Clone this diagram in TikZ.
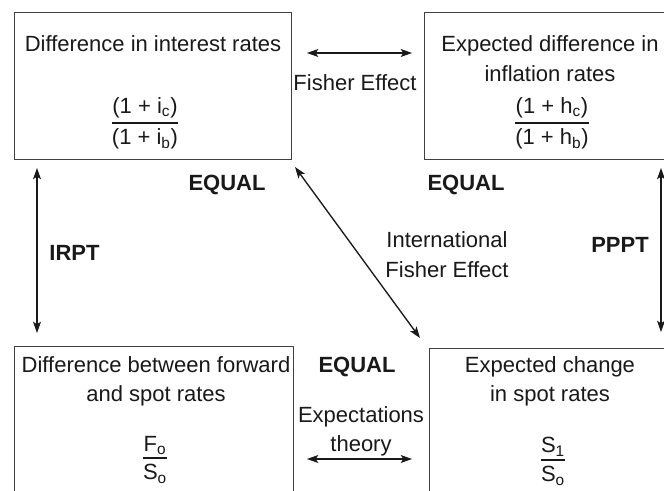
\documentclass[tikz,border=0pt]{standalone}
\usepackage{fontspec}
\setmainfont{Liberation Sans}
\usetikzlibrary{arrows.meta}
\setlength{\arrayrulewidth}{1pt}
\newcommand\myfrac[2]{\begin{tabular}[t]{@{}c@{}}#1\\\hline #2\end{tabular}}
\newcommand\myfracb[2]{\begin{tabular}[t]{@{}c@{}}#1\\[-2pt]\hline #2\end{tabular}}
\begin{document}
\begin{tikzpicture}[x=0.75pt,y=-0.75pt,
  every node/.style={font=\fontsize{16.5}{22.5}\selectfont, text=black!90, inner sep=0pt},
  txt/.style={anchor=base},
  bold/.style={anchor=base, font=\fontsize{16.5}{22.5}\selectfont\bfseries},
  box/.style={draw=black!75, line width=1.1pt, anchor=north west},
  arr/.style={line width=1pt, draw=black!90,
    {Stealth[length=8.5pt,width=6pt,inset=2pt]}-{Stealth[length=8.5pt,width=6pt,inset=2pt]}}
]
\clip (0,0) rectangle (664,491);
\fill[white] (0,0) rectangle (664,491);

% boxes
\node[box, minimum width=277*0.75pt, minimum height=147*0.75pt] (tl) at (14,12) {};
\node[box, minimum width=252*0.75pt, minimum height=147*0.75pt] (tr) at (424,12) {};
\node[box, minimum width=279*0.75pt, minimum height=180*0.75pt] (bl) at (14,346) {};
\node[box, minimum width=242*0.75pt, minimum height=180*0.75pt] (br) at (429,348) {};

% box contents
\node[txt] (tlt) at (153,52) {Difference in interest rates};
\node[txt] (tlf) at (145,113.5) {\myfrac{(1 + i\textsubscript{c})}{(1 + i\textsubscript{b})}};

\node[txt] (trt1) at (550,52) {Expected difference in};
\node[txt] (trt2) at (550,82) {inflation rates};
\node[txt] (trf) at (552,113.5) {\myfrac{(1 + h\textsubscript{c})}{(1 + h\textsubscript{b})}};

\node[txt] (blt1) at (156,373) {Difference between forward};
\node[txt] (blt2) at (156,402) {and spot rates};
\node[txt] (blf) at (155,451) {\myfracb{F\textsubscript{o}}{S\textsubscript{o}}};

\node[txt] (brt1) at (550,373) {Expected change};
\node[txt] (brt2) at (550,402) {in spot rates};
\node[txt] (brf) at (553,453) {\myfracb{S\textsubscript{1}}{S\textsubscript{o}}};

% labels
\node[bold] (eq1) at (227,191) {EQUAL};
\node[bold] (eq2) at (466,191) {EQUAL};
\node[bold] (eq3) at (357,373) {EQUAL};
\node[txt] (fe) at (355,91) {Fisher Effect};
\node[bold] (irpt) at (74.5,261) {IRPT};
\node[bold] (pppt) at (620,253) {PPPT};
\node[txt] (ife1) at (447,248) {International};
\node[txt] (ife2) at (447,278) {Fisher Effect};
\node[txt] (et1) at (361,422) {Expectations};
\node[txt] (et2) at (361,451) {theory};

% connector ends
\coordinate (fa1) at (307,53);
\coordinate (fa2) at (412,53);
\coordinate (ia1) at (37,168);
\coordinate (ia2) at (37,333);
\coordinate (pa1) at (661,168);
\coordinate (pa2) at (661,332);
\coordinate (da1) at (295,167);
\coordinate (da2) at (420,338);
\coordinate (ea1) at (307,459);
\coordinate (ea2) at (412,459);

\draw[arr] (fa1) -- (fa2);
\draw[arr] (ia1) -- (ia2);
\draw[arr] (pa1) -- (pa2);
\draw[arr] (da1) -- (da2);
\draw[arr] (ea1) -- (ea2);
\end{tikzpicture}
\end{document}
